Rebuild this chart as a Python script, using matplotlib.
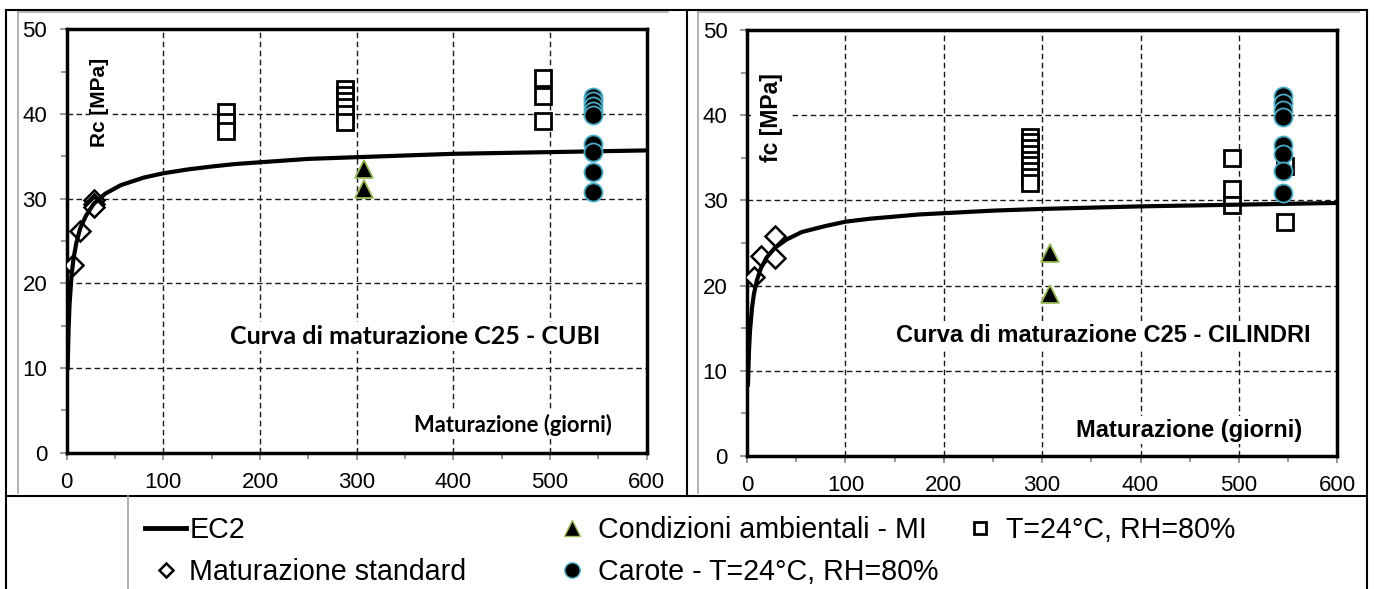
## Curve di maturazione C25 - cubi e cilindri ##

import matplotlib
matplotlib.use('Agg')
import matplotlib.pyplot as plt
from matplotlib.lines import Line2D

plt.rcParams['font.family'] = ['Liberation Sans', 'DejaVu Sans']

# Data #
days_ec2 = [1, 2, 3, 5, 7, 10, 14, 20, 28, 40, 56, 80, 100, 125, 150, 175, 200, 250, 300, 400, 500, 600]
ec2_cubi = [10.0, 14.8, 17.6, 20.9, 22.9, 24.8, 26.5, 28.0, 29.4, 30.6, 31.6, 32.5, 33.0,
            33.45, 33.8, 34.1, 34.3, 34.7, 34.9, 35.3, 35.5, 35.7]
ec2_cil = [8.4, 12.3, 14.6, 17.3, 19.0, 20.6, 22.0, 23.3, 24.4, 25.4, 26.3, 27.0, 27.5,
           27.85, 28.1, 28.35, 28.5, 28.8, 29.0, 29.3, 29.5, 29.7]

std_days_cubi = [7, 14, 28, 28, 28]
std_cubi = [22.2, 26.2, 29.8, 29.4, 29.0]
std_days_cil = [7, 14, 28, 28]
std_cil = [21.0, 23.5, 25.8, 23.2]

mi_days = [308, 308]
mi_cubi = [33.5, 31.2]
mi_cil = [23.8, 19.0]

lab_days_cubi = [165, 165, 165, 288, 288, 288, 288, 288, 288, 493, 493, 493]
lab_cubi = [40.2, 39.0, 38.0, 42.9, 42.2, 41.5, 40.8, 40.0, 39.0, 44.3, 42.1, 39.2]
lab_days_cil = [288, 288, 288, 288, 288, 288, 288, 288, 288, 493, 493, 493, 547, 547]
lab_cil = [37.5, 36.8, 36.2, 35.5, 34.8, 34.2, 33.5, 32.8, 32.0, 35.0, 31.3, 29.5, 27.5, 34.0]

car_days_cubi = [545] * 9
car_cubi = [42.0, 41.5, 41.0, 40.4, 39.9, 36.5, 35.5, 33.2, 30.8]
car_days_cil = [545] * 8
car_cil = [42.2, 41.4, 40.6, 39.8, 36.5, 35.5, 33.4, 30.9]

W, H = 1374, 589
fig = plt.figure(figsize=(W / 100, H / 100), dpi=100)
ax1 = fig.add_axes([66.7 / W, 1 - 452.8 / H, 579.8 / W, 423.5 / H])
ax2 = fig.add_axes([747 / W, 1 - 456 / H, 590.3 / W, 426 / H])


def style(ax):
    ax.set_xlim(0, 600)
    ax.set_ylim(0, 50)
    ax.set_xticks(range(0, 601, 100))
    ax.set_xticks(range(50, 600, 100), minor=True)
    ax.set_yticks(range(0, 51, 10))
    ax.set_yticks(range(5, 50, 10), minor=True)
    ax.tick_params(which='both', direction='out', color='#868686', width=1.2, labelsize=16)
    ax.tick_params(which='major', length=5, pad=9)
    ax.tick_params(which='minor', length=4)
    ax.grid(True, which='major', color='#1a1a1a', lw=1.0, ls=(0, (4, 2.5)))
    ax.set_axisbelow(True)
    for s in ax.spines.values():
        s.set_linewidth(2.5)
        s.set_color('black')


box = dict(facecolor='white', edgecolor='none', pad=2)

# Left: cubi #
style(ax1)
ax1.plot(lab_days_cubi, lab_cubi, ls='none', marker='s', ms=11, mfc='white', mec='black', mew=2, zorder=3)
ax1.plot(std_days_cubi, std_cubi, ls='none', marker='D', ms=10, mfc='white', mec='black', mew=1.8, zorder=3)
ax1.plot(days_ec2, ec2_cubi, color='black', lw=3, zorder=4)
ax1.plot(mi_days, mi_cubi, ls='none', marker='^', ms=13, mfc='black', mec='#9bbb59', mew=1.3, zorder=5)
ax1.plot(car_days_cubi, car_cubi, ls='none', marker='o', ms=13, mfc='black', mec='#4bacc6', mew=1.3, zorder=5)
ax1.text(0.0574, 0.828, 'Rc [MPa]', transform=ax1.transAxes, rotation=90, fontsize=15,
         fontweight='bold', ha='center', va='center', bbox=dict(facecolor='white', edgecolor='none', pad=0.5))
ax1.text(0.6007, 0.2741, 'Curva di maturazione C25 - CUBI', transform=ax1.transAxes, family='Lato',
         fontsize=18, fontweight='bold', ha='center', va='center', bbox=box)
ax1.text(0.7698, 0.0656, 'Maturazione (giorni)', transform=ax1.transAxes, family='Lato',
         fontsize=15.8, fontweight='bold', ha='center', va='center', bbox=box)

# Right: cilindri #
style(ax2)
ax2.plot(lab_days_cil, lab_cil, ls='none', marker='s', ms=11, mfc='white', mec='black', mew=2, zorder=3)
ax2.plot(std_days_cil, std_cil, ls='none', marker='D', ms=10, mfc='white', mec='black', mew=1.8, zorder=3)
ax2.plot(days_ec2, ec2_cil, color='black', lw=3, zorder=4)
ax2.plot(mi_days, mi_cil, ls='none', marker='^', ms=13, mfc='black', mec='#9bbb59', mew=1.3, zorder=5)
ax2.plot(car_days_cil, car_cil, ls='none', marker='o', ms=13, mfc='black', mec='#4bacc6', mew=1.3, zorder=5)
ax2.text(0.0407, 0.7934, 'fc [MPa]', transform=ax2.transAxes, rotation=90, fontsize=16.5,
         fontweight='bold', ha='center', va='center', bbox=dict(facecolor='white', edgecolor='none', pad=6))
ax2.text(0.6031, 0.284, 'Curva di maturazione C25 - CILINDRI', transform=ax2.transAxes,
         fontsize=17, fontweight='bold', ha='center', va='center', bbox=box)
ax2.text(0.7488, 0.061, 'Maturazione (giorni)', transform=ax2.transAxes,
         fontsize=17, fontweight='bold', ha='center', va='center', bbox=box)

# Legend #
h_ec2 = Line2D([], [], color='black', lw=3.5)
h_std = Line2D([], [], ls='none', marker='D', ms=7.5, mfc='white', mec='black', mew=1.8)
h_mi = Line2D([], [], ls='none', marker='^', ms=11, mfc='black', mec='#9bbb59', mew=1)
h_car = Line2D([], [], ls='none', marker='o', ms=11, mfc='black', mec='#4bacc6', mew=1)
h_lab = Line2D([], [], ls='none', marker='s', ms=9, mfc='white', mec='black', mew=2)

leg_kw = dict(loc='upper left', frameon=False, fontsize=20.6, borderpad=0, borderaxespad=0,
              labelspacing=0.5)
fig.legend([h_ec2, h_std], ['EC2', 'Maturazione standard'], bbox_to_anchor=(145 / W, 1 - 516 / H),
           handlelength=1.45, handletextpad=0.1, **leg_kw)
fig.legend([h_mi, h_car], ['Condizioni ambientali - MI', 'Carote - T=24°C, RH=80%'],
           bbox_to_anchor=(558 / W, 1 - 516 / H), handlelength=1.0, handletextpad=0.4, **leg_kw)
fig.legend([h_lab], ['T=24°C, RH=80%'], bbox_to_anchor=(966 / W, 1 - 516 / H),
           handlelength=1.0, handletextpad=0.4, **leg_kw)

# Table borders around the two charts #
def fline(xs, ys, color='black', lw=1.5):
    fig.add_artist(Line2D([x / W for x in xs], [1 - y / H for y in ys], color=color, lw=lw,
                          transform=fig.transFigure))


fline([6, 1367], [10, 10])
fline([6, 6], [10, 589])
fline([1367, 1367], [10, 589])
fline([687, 687], [10, 496])
fline([6, 1367], [496, 496])
fline([18, 668], [12, 12], color='#a6a6a6', lw=1.2)
fline([18, 18], [12, 493], color='#a6a6a6', lw=1.2)
fline([698, 1359], [12, 12], color='#a6a6a6', lw=1.2)
fline([698, 698], [12, 493], color='#a6a6a6', lw=1.2)
fline([128, 128], [496, 589], color='#a6a6a6', lw=1.2)

fig.savefig('out.png', dpi=100)
